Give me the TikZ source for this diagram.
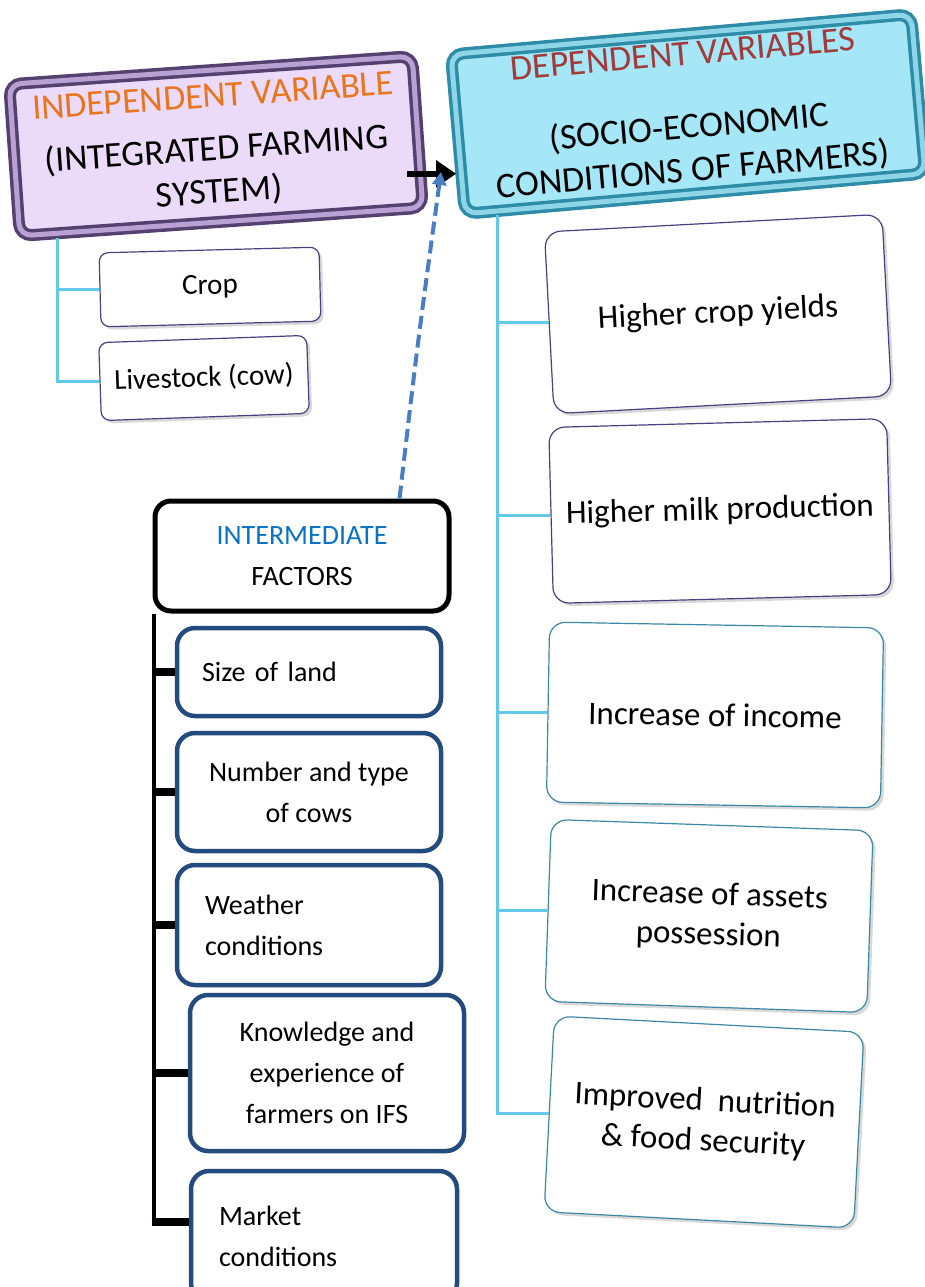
\documentclass[tikz,border=0pt]{standalone}
\usepackage{fontspec}
\setmainfont{Carlito}
\usetikzlibrary{shadows,arrows.meta}
\definecolor{indepfill}{HTML}{EBDAF8}
\definecolor{indepline}{HTML}{55416F}
\definecolor{indepband}{HTML}{B9A2D3}
\definecolor{indeptext}{HTML}{E8761E}
\definecolor{depfill}{HTML}{A6E7F7}
\definecolor{depline}{HTML}{2F8CA6}
\definecolor{depband}{HTML}{8FD5E8}
\definecolor{deptext}{HTML}{A23B3B}
\definecolor{treecyan}{HTML}{62C9E6}
\definecolor{factorline}{HTML}{234B7E}
\definecolor{interblue}{HTML}{0A73C4}
\definecolor{dashblue}{HTML}{4A7EC4}
\definecolor{resultline}{HTML}{43437F}
\definecolor{resultteal}{HTML}{3B88A3}

\begin{document}
\begin{tikzpicture}[x=1pt,y=-1pt]
\tikzstyle{every node}=[align=center,inner sep=0pt];
\tikzstyle{headbox}=[rounded corners=12pt,line width=3.5pt,double distance=5pt,drop shadow={shadow xshift=4pt,shadow yshift=-4pt,opacity=0.35},font=\fontsize{36}{43}\selectfont];
\tikzstyle{itembox}=[draw=resultline,fill=white,rounded corners=9pt,line width=1.2pt,drop shadow={shadow xshift=3pt,shadow yshift=-3pt,opacity=0.3},font=\fontsize{29}{35}\selectfont];
\tikzstyle{resultbox}=[itembox,rounded corners=16pt,font=\fontsize{33}{40}\selectfont];
\tikzstyle{factorbox}=[draw=factorline,fill=white,rounded corners=18pt,line width=4.5pt,font=\fontsize{28}{41}\selectfont];
\useasboundingbox (0,0) rectangle (925,1287);

% the two variables
\node[headbox,draw=indepline,double=indepband,fill=indepfill,minimum width=404pt,minimum height=152pt,rotate=4] (indep) at (216,146)
  {{\color{indeptext}INDEPENDENT VARIABLE}\\[10pt](INTEGRATED FARMING\\SYSTEM)};
\node[headbox,draw=depline,double=depband,fill=depfill,minimum width=462pt,minimum height=160pt,rotate=5] (dep) at (688,114)
  {{\color{deptext}DEPENDENT VARIABLES}\\[30pt](SOCIO-ECONOMIC\\CONDITIONS OF FARMERS)};
\draw[line width=6pt,-{Triangle[length=20pt,width=26pt]}] ([xshift=-12pt,yshift=-42pt]indep.east) -- ([yshift=-42pt]indep.east -| dep.west);

% independent variable parts
\node[itembox,minimum width=220pt,minimum height=74pt,rotate=1.5] (crop) at (210,287) {Crop};
\node[itembox,minimum width=208pt,minimum height=78pt,rotate=2] (live) at (204,378) {Livestock (cow)};
\coordinate (ltrunk) at (57,238);
\draw[treecyan,line width=3pt] (ltrunk) |- (crop.west);
\draw[treecyan,line width=3pt] (ltrunk) |- (live.west);

% dependent variable parts
\node[resultbox,minimum width=338pt,minimum height=182pt,rotate=3] (yields) at (718,314) {Higher crop yields};
\node[resultbox,minimum width=338pt,minimum height=176pt,rotate=1.5] (milk) at (720,511) {Higher milk production};
\node[resultbox,draw=resultteal,minimum width=334pt,minimum height=180pt,rotate=-1] (income) at (715,715) {Increase of income};
\node[resultbox,draw=resultteal,minimum width=322pt,minimum height=182pt,rotate=-2] (assets) at (709,916) {Increase of assets\\possession};
\node[resultbox,draw=resultteal,minimum width=310pt,minimum height=196pt,rotate=-3] (food) at (704,1122) {Improved\ \ nutrition\\\& food security};
\coordinate (rtrunk) at (497,215);
\foreach \n in {yields,milk,income,assets,food}
  \draw[treecyan,line width=3pt] (rtrunk) |- (\n.west);

% intermediate factors
\node[draw,rounded corners=16pt,line width=5pt,minimum width=294pt,minimum height=110pt,font=\fontsize{28}{41}\selectfont] (inter) at (302,556)
  {{\color{interblue}INTERMEDIATE}\\FACTORS};
\node[factorbox,minimum width=264pt,minimum height=88pt,text width=214pt,align=left] (land) at (309,672) {Size of land\\[-14pt]};
\node[factorbox,minimum width=264pt,minimum height=118pt] (cows) at (309,792) {Number and type\\of cows};
\node[factorbox,minimum width=264pt,minimum height=120pt,text width=208pt,align=left] (weather) at (309,925) {Weather\\conditions};
\node[factorbox,minimum width=274pt,minimum height=156pt] (know) at (327,1073) {Knowledge and\\experience of\\farmers on IFS};
\node[factorbox,minimum width=266pt,minimum height=130pt,text width=210pt,align=left] (market) at (324,1236) {Market\\conditions};
\draw[line width=4pt] ([xshift=1pt]inter.south west) -- ([xshift=1pt]inter.south west |- 0,1224);
\foreach \n in {land,cows,weather,know}
  \draw[line width=8pt] ([xshift=1pt]inter.south west |- \n.west) -- (\n.west);
\draw[line width=8pt] ([xshift=-1pt]inter.south west |- 0,1222) -- ([yshift=14pt]market.west);

% link from the intermediate factors
\coordinate (dashend) at (441,172);
\draw[dashblue,line width=4pt,dash pattern=on 13pt off 6pt,-{Triangle[length=13pt,width=14pt]}] ([xshift=-52pt]inter.north east) .. controls (418,340) .. (dashend);
\end{tikzpicture}
\end{document}
